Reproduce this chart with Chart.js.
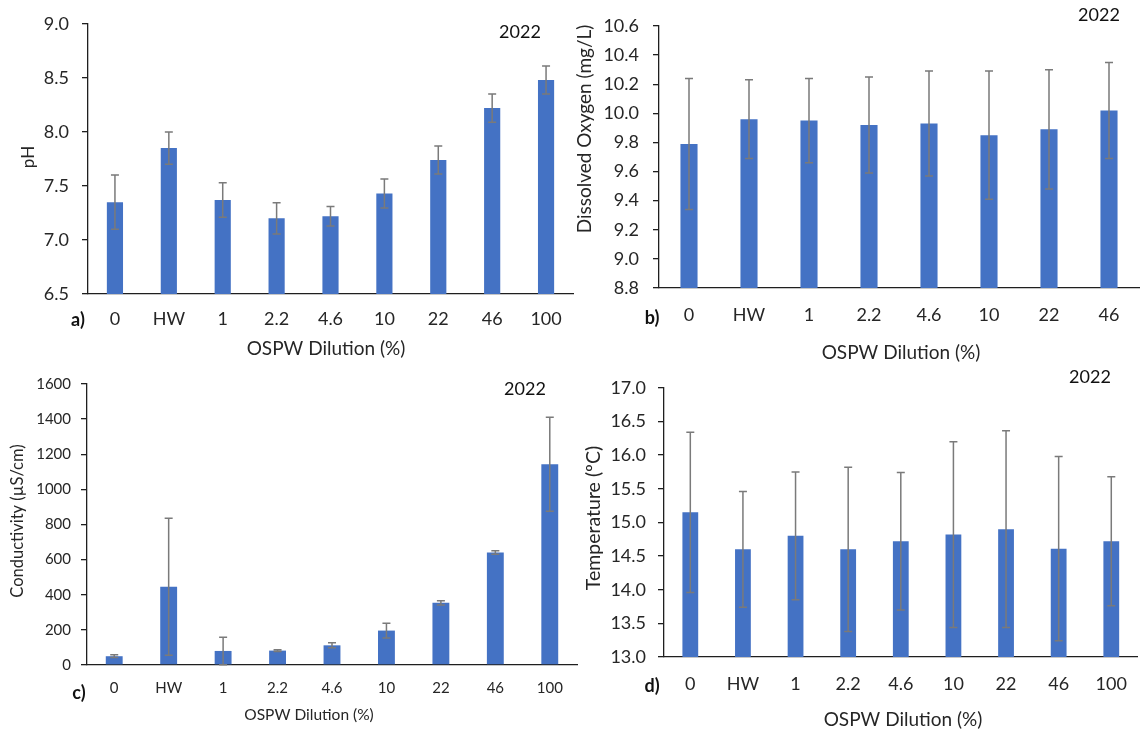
<!DOCTYPE html>
<html>
<head>
<meta charset="utf-8">
<script src="https://cdn.jsdelivr.net/npm/chart.js@4.4.1/dist/chart.umd.min.js"></script>
<style>
  body { margin: 0; background: #fff; }
  #wrap { position: relative; width: 1143px; height: 732px; overflow: hidden; }
  #wrap canvas { position: absolute; }
</style>
</head>
<body>
<div id="wrap">
  <canvas id="chartA" width="578" height="365" style="left:0;top:0"></canvas>
  <canvas id="chartB" width="583" height="365" style="left:560px;top:0"></canvas>
  <canvas id="chartC" width="580" height="367" style="left:0;top:365px"></canvas>
  <canvas id="chartD" width="583" height="367" style="left:560px;top:365px"></canvas>
</div>
<script>
// categories (OSPW dilution, %)
const dilutions = ['0', 'HW', '1', '2.2', '4.6', '10', '22', '46', '100'];
const dilutionsDO = ['0', 'HW', '1', '2.2', '4.6', '10', '22', '46'];

// a) pH
const phMean = [7.35, 7.85, 7.37, 7.20, 7.22, 7.43, 7.74, 8.22, 8.48];
const phErr  = [0.25, 0.15, 0.16, 0.145, 0.09, 0.135, 0.13, 0.13, 0.13];
const phTicks = { min: 6.5, max: 9.0, step: 0.5 };

// b) dissolved oxygen (mg/L)
const doMean = [9.79, 9.96, 9.95, 9.92, 9.93, 9.85, 9.89, 10.02];
const doErr  = [0.45, 0.27, 0.29, 0.33, 0.36, 0.44, 0.41, 0.33];
const doTicks = { min: 8.8, max: 10.6, step: 0.2 };

// c) conductivity (µS/cm)
const condMean = [50, 445, 80, 82, 112, 196, 354, 640, 1143];
const condErr  = [8, 390, 78, 5, 14, 42, 12, 10, 268];
const condTicks = { min: 0, max: 1600, step: 200 };

// d) temperature (ºC)
const tempMean = [15.15, 14.60, 14.80, 14.60, 14.72, 14.82, 14.90, 14.61, 14.72];
const tempErr  = [1.19, 0.86, 0.95, 1.22, 1.02, 1.38, 1.46, 1.37, 0.96];
const tempTicks = { min: 13.0, max: 17.0, step: 0.5 };

const yearLabel = '2022';
const xTitle = 'OSPW Dilution (%)';

Chart.defaults.font.family = 'Lato, "Open Sans", sans-serif';
Chart.defaults.color = '#262626';

const BAR_BLUE = '#4472C4';
const AXIS = '#1f1f1f';
const TEXT = '#262626';

function errorBarPlugin(errors) {
  return {
    id: 'errorBars',
    afterDatasetsDraw(chart) {
      const ctx = chart.ctx;
      const y = chart.scales.y;
      const values = chart.data.datasets[0].data;
      const cap = 4;
      ctx.save();
      ctx.strokeStyle = '#7a7a7a';
      ctx.lineWidth = 1.5;
      chart.getDatasetMeta(0).data.forEach((bar, i) => {
        const top = y.getPixelForValue(values[i] + errors[i]);
        const bot = y.getPixelForValue(values[i] - errors[i]);
        ctx.beginPath();
        ctx.moveTo(bar.x, top); ctx.lineTo(bar.x, bot);
        ctx.moveTo(bar.x - cap, top); ctx.lineTo(bar.x + cap, top);
        ctx.moveTo(bar.x - cap, bot); ctx.lineTo(bar.x + cap, bot);
        ctx.stroke();
      });
      ctx.restore();
    }
  };
}

function textPlugin(items) {
  return {
    id: 'panelText',
    afterDraw(chart) {
      const ctx = chart.ctx;
      items.forEach(t => {
        ctx.save();
        ctx.font = t.font;
        ctx.fillStyle = t.color || TEXT;
        ctx.textAlign = 'center';
        ctx.textBaseline = 'middle';
        ctx.translate(t.x, t.y);
        if (t.rot) ctx.rotate(-Math.PI / 2);
        ctx.fillText(t.text, 0, 0);
        ctx.restore();
      });
    }
  };
}

function makePanel(id, p) {
  const canvas = document.getElementById(id);
  const W = canvas.width, H = canvas.height;
  return new Chart(canvas, {
    type: 'bar',
    data: {
      labels: p.labels,
      datasets: [{
        data: p.values,
        backgroundColor: BAR_BLUE,
        borderWidth: 0,
        categoryPercentage: 1,
        barPercentage: p.barPct
      }]
    },
    options: {
      responsive: false,
      animation: false,
      layout: { padding: { left: 0, top: p.box.top, right: W - p.box.right, bottom: 0 } },
      plugins: { legend: { display: false }, tooltip: { enabled: false } },
      scales: {
        x: {
          grid: { display: false, drawTicks: false },
          border: { display: true, color: AXIS, width: 1.3 },
          ticks: { font: { size: p.fontSize }, padding: p.xPad, color: TEXT, maxRotation: 0, autoSkip: false },
          afterFit(s) { s.height = H - p.box.bottom; }
        },
        y: {
          min: p.ticks.min,
          max: p.ticks.max,
          grid: { display: true, drawOnChartArea: false, drawTicks: true, tickLength: 6, color: AXIS, lineWidth: 1.3 },
          border: { display: true, color: AXIS, width: 1.3 },
          ticks: {
            stepSize: p.ticks.step,
            font: { size: p.fontSize },
            padding: p.yPad,
            color: TEXT,
            callback: v => v.toFixed(p.decimals)
          },
          afterFit(s) { s.width = p.box.left; }
        }
      }
    },
    plugins: [errorBarPlugin(p.errors), textPlugin(p.texts)]
  });
}

makePanel('chartA', {
  labels: dilutions, values: phMean, errors: phErr, ticks: phTicks, decimals: 1,
  box: { left: 88, top: 22, right: 573, bottom: 294 },
  fontSize: 18, xPad: 14, yPad: 13, barPct: 0.3,
  texts: [
    { text: 'pH', x: 29, y: 157, font: '17px Lato', rot: true },
    { text: xTitle, x: 326, y: 349, font: '19px Lato' },
    { text: 'a)', x: 78, y: 320, font: 'bold 18px Lato', color: '#111' },
    { text: yearLabel, x: 520, y: 32, font: '18px Lato', color: '#111' }
  ]
});

makePanel('chartB', {
  labels: dilutionsDO, values: doMean, errors: doErr, ticks: doTicks, decimals: 1,
  box: { left: 99, top: 26, right: 579, bottom: 288 },
  fontSize: 18, xPad: 16, yPad: 14, barPct: 0.285,
  texts: [
    { text: 'Dissolved Oxygen (mg/L)', x: 25, y: 129, font: '19px Lato', rot: true },
    { text: xTitle, x: 341, y: 353, font: '19px Lato' },
    { text: 'b)', x: 92, y: 318, font: 'bold 18px Lato', color: '#111' },
    { text: yearLabel, x: 539, y: 15, font: '18px Lato', color: '#111' }
  ]
});

makePanel('chartC', {
  labels: dilutions, values: condMean, errors: condErr, ticks: condTicks, decimals: 0,
  box: { left: 87, top: 14, right: 577, bottom: 300 },
  fontSize: 15, xPad: 14, yPad: 10, barPct: 0.31,
  texts: [
    { text: 'Conductivity (µS/cm)', x: 18, y: 156, font: '16.5px Lato', rot: true },
    { text: xTitle, x: 309, y: 350, font: '15.5px Lato' },
    { text: 'c)', x: 79, y: 328, font: 'bold 18px Lato', color: '#111' },
    { text: yearLabel, x: 525, y: 24, font: '18px Lato', color: '#111' }
  ]
});

makePanel('chartD', {
  labels: dilutions, values: tempMean, errors: tempErr, ticks: tempTicks, decimals: 1,
  box: { left: 104, top: 13, right: 582, bottom: 292 },
  fontSize: 18, xPad: 16, yPad: 12, barPct: 0.3,
  texts: [
    { text: 'Temperature (ºC)', x: 34, y: 153, font: '19.5px Lato', rot: true },
    { text: xTitle, x: 343, y: 355, font: '19px Lato' },
    { text: 'd)', x: 92, y: 321, font: 'bold 18px Lato', color: '#111' },
    { text: yearLabel, x: 530, y: 12, font: '18px Lato', color: '#111' }
  ]
});
</script>
</body>
</html>
